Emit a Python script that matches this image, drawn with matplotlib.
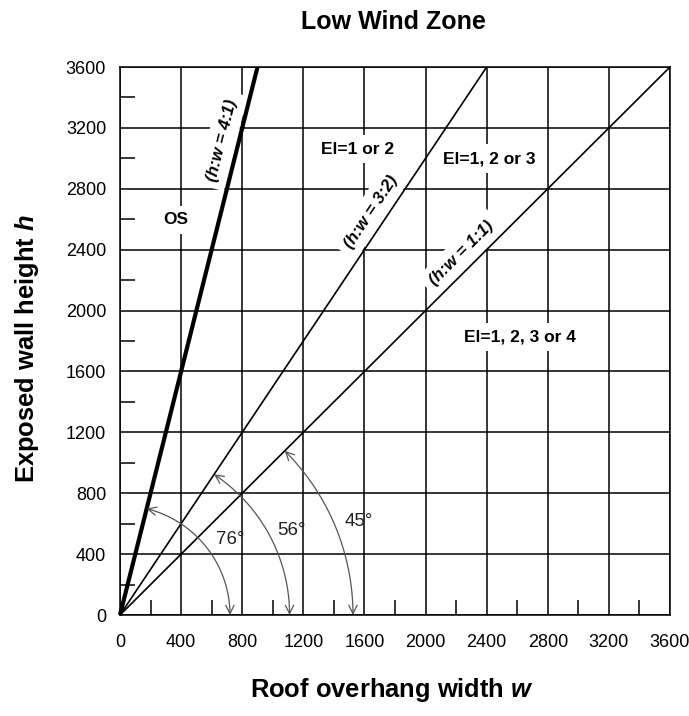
#!/usr/bin/env python3
"""Low wind zone chart: exposed wall height vs roof overhang width."""

import numpy as np
import matplotlib

matplotlib.use("Agg")
import matplotlib.pyplot as plt
from matplotlib.patches import FancyArrowPatch
from matplotlib.path import Path
from matplotlib.ticker import MultipleLocator

plt.rcParams["font.family"] = ["Liberation Sans", "DejaVu Sans"]
plt.rcParams["mathtext.fontset"] = "custom"
plt.rcParams["mathtext.it"] = "Liberation Sans:bold:italic"
plt.rcParams["mathtext.rm"] = "Liberation Sans:bold"

# h:w ratio lines
ratio_h = [4, 3, 1]
ratio_w = [1, 2, 1]
ratio_lw = [3.0, 1.2, 1.2]
ratio_labels = ["(h:w = 4:1)", "(h:w = 3:2)", "(h:w = 1:1)"]
ratio_label_pos = [(666, 3120), (1641, 2649), (2236, 2376)]

# angle arcs (radius in mm, ending on the w axis)
arc_radius = [720, 1110, 1525]
arc_labels = ["76°", "56°", "45°"]
arc_label_pos = [(720, 493), (1124, 558), (1560, 613)]

# zone labels
zone_labels = ["OS", "El=1 or 2", "El=1, 2 or 3", "El=1, 2, 3 or 4"]
zone_pos = [(367, 2595), (1558, 3061), (2415, 2996), (2618, 1826)]

AX_MAX = 3600
ticks = np.arange(0, AX_MAX + 1, 400)

fig = plt.figure(figsize=(6.89, 7.16), dpi=100)
ax = fig.add_axes([120 / 689, 101 / 716, 550 / 689, 548 / 716])

ax.set_xlim(0, AX_MAX)
ax.set_ylim(0, AX_MAX)
ax.set_xticks(ticks)
ax.set_yticks(ticks)
ax.xaxis.set_minor_locator(MultipleLocator(200))
ax.yaxis.set_minor_locator(MultipleLocator(200))
ax.tick_params(which="major", length=0, labelsize=13)
ax.tick_params(axis="x", which="major", pad=14)
ax.tick_params(axis="y", which="major", pad=10)
ax.tick_params(which="minor", direction="in", length=11, width=1.1,
               top=False, right=False)
ax.set_axisbelow(True)
ax.grid(True, which="major", color="black", lw=1.1)
for sp in ax.spines.values():
    sp.set_linewidth(1.1)

for rh, rw, lw in zip(ratio_h, ratio_w, ratio_lw):
    r = rh / rw
    w_end = min(AX_MAX, AX_MAX / r)
    ax.plot([0, w_end], [0, r * w_end], color="black", lw=lw,
            zorder=4, solid_capstyle="butt", clip_on=False)

box = dict(facecolor="white", edgecolor="none", pad=5)
for lab, (x, y), rh, rw in zip(ratio_labels, ratio_label_pos, ratio_h, ratio_w):
    ang = np.degrees(np.arctan2(rh, rw))
    ax.text(x, y, lab, rotation=ang, transform_rotates_text=True,
            rotation_mode="anchor", ha="center", va="center",
            fontsize=12.2, fontweight="bold", style="italic",
            bbox=box, zorder=3)

for lab, (x, y) in zip(zone_labels, zone_pos):
    ax.text(x, y, lab, ha="center", va="center", fontsize=12.5,
            fontweight="bold", bbox=box, zorder=3)

for rad, rh, rw in zip(arc_radius, ratio_h, ratio_w):
    t = np.linspace(np.arctan2(rh, rw), 0, 80)
    arc = Path(np.column_stack([rad * np.cos(t), rad * np.sin(t)]))
    ax.add_patch(FancyArrowPatch(path=arc, arrowstyle="<->,head_length=0.6,head_width=0.3",
                                 mutation_scale=10, color="#555555", lw=0.9,
                                 shrinkA=0, shrinkB=0, zorder=5))

for lab, (x, y) in zip(arc_labels, arc_label_pos):
    ax.text(x, y, lab, ha="center", va="center", fontsize=13.5, color="#222222", zorder=5)

fig.text(393 / 689, 1 - 22 / 716, "Low Wind Zone", ha="center", va="center",
         fontsize=18, fontweight="bold")
fig.text(392 / 689, 1 - 690 / 716, r"Roof overhang width $w$", ha="center",
         va="center", fontsize=18.4, fontweight="bold")
fig.text(27 / 689, 1 - 349 / 716, r"Exposed wall height $h$", ha="center",
         va="center", rotation=90, fontsize=18.4, fontweight="bold")

fig.savefig("out.png", dpi=100)
